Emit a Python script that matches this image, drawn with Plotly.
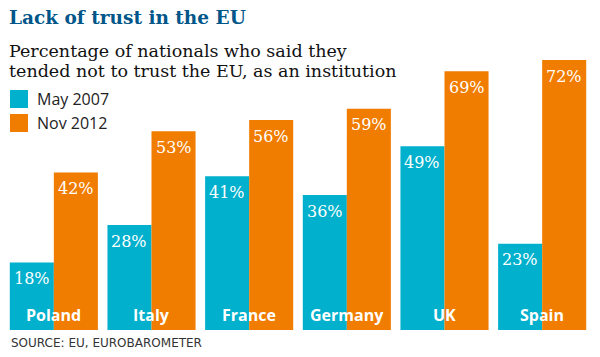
import plotly.graph_objects as go

countries = ["Poland", "Italy", "France", "Germany", "UK", "Spain"]
may_2007 = [18, 28, 41, 36, 49, 23]
nov_2012 = [42, 53, 56, 59, 69, 72]
series_names = ["May 2007", "Nov 2012"]
colors = ["#00b0cc", "#f07c00"]

title = "Lack of trust in the EU"
subtitle_lines = ["Percentage of nationals who said they",
                  "tended not to trust the EU, as an institution"]
source = "SOURCE: EU, EUROBAROMETER"

W, H = 600, 357
ML, MR, MT, MB = 5, 9, 30, 27
PW, PH = W - ML - MR, H - MT - MB
BARGAP = 0.098


def px_x(x):
    return (x - ML) / PW


def px_y(y):
    return (H - MB - y) / PH


fig = go.Figure()
x_idx = list(range(len(countries)))
for name, vals, col in zip(series_names, [may_2007, nov_2012], colors):
    fig.add_bar(x=x_idx, y=vals, name=name, marker_color=col,
                marker_line_width=0, showlegend=False, hoverinfo="skip")

bw = (1 - BARGAP) / 2
ann = []
for s, vals in enumerate([may_2007, nov_2012]):
    off = (s - 0.5) * bw
    for i, v in enumerate(vals):
        ann.append(dict(x=i + off, y=v, xref="x", yref="y", text=f"{v}%",
                        showarrow=False, yanchor="middle", yshift=-16,
                        font=dict(family="DejaVu Serif", size=16, color="white")))
for i, c in enumerate(countries):
    ann.append(dict(x=i, y=0, xref="x", yref="y", text=c, showarrow=False,
                    yanchor="middle", yshift=15,
                    font=dict(family="Open Sans", size=16, color="white", weight=700)))

# title and subtitle
ann.append(dict(x=px_x(7), y=px_y(18), xref="paper", yref="paper", text=title,
                showarrow=False, xanchor="left", yanchor="middle",
                font=dict(family="DejaVu Serif", size=18.5, color="#005689", weight=700)))
for k, line in enumerate(subtitle_lines):
    ann.append(dict(x=px_x(7), y=px_y(51 + 20 * k), xref="paper", yref="paper", text=line,
                    showarrow=False, xanchor="left", yanchor="middle",
                    font=dict(family="DejaVu Serif", size=17.5, color="#111111")))

# legend
shapes = []
for k, (name, col) in enumerate(zip(series_names, colors)):
    top = 90 + 24 * k
    shapes.append(dict(type="rect", xref="paper", yref="paper",
                       x0=px_x(10), x1=px_x(28), y0=px_y(top), y1=px_y(top + 18),
                       fillcolor=col, line_width=0))
    ann.append(dict(x=px_x(35), y=px_y(top + 9), xref="paper", yref="paper", text=name,
                    showarrow=False, xanchor="left", yanchor="middle",
                    font=dict(family="Open Sans", size=16, color="#222")))

ann.append(dict(x=px_x(9), y=px_y(343), xref="paper", yref="paper", text=source,
                showarrow=False, xanchor="left", yanchor="middle",
                font=dict(family="DejaVu Sans", size=12, color="#333")))

fig.update_layout(
    width=W, height=H,
    margin=dict(l=ML, r=MR, t=MT, b=MB, pad=0),
    barmode="group", bargap=BARGAP, bargroupgap=0,
    plot_bgcolor="white", paper_bgcolor="white",
    xaxis=dict(range=[-0.5, len(countries) - 0.5], visible=False, fixedrange=True),
    yaxis=dict(range=[0, 80], visible=False, fixedrange=True),
    annotations=ann, shapes=shapes,
)
fig.write_html("out.html", config={"displayModeBar": False},
               post_script="document.body.style.margin='0';")
